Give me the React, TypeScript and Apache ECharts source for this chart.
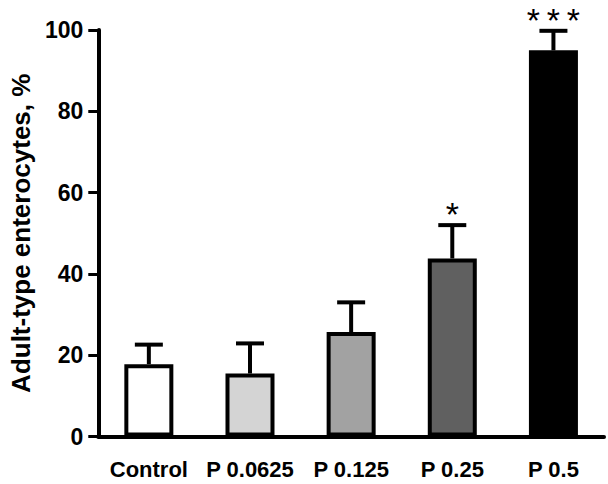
import React, { useEffect, useRef } from "react";
import * as echarts from "echarts";

const categories = ["Control", "P 0.0625", "P 0.125", "P 0.25", "P 0.5"];
const means = [17.8, 15.5, 25.7, 43.8, 95.0];
const sdUpper = [4.8, 7.4, 7.3, 8.2, 4.8];
const stars = ["", "", "", "*", "***"];
const fills = ["#ffffff", "#d4d4d4", "#a2a2a2", "#606060", "#000000"];
const yTicks = [0, 20, 40, 60, 80, 100];

const FONT = "'Liberation Sans', Arial, sans-serif";

export default function App() {
  const ref = useRef<HTMLDivElement>(null);
  useEffect(() => {
    if (!ref.current) return;
    const chart = echarts.init(ref.current, undefined, { renderer: "svg" });
    const errData = categories.map((c, i) => [i, means[i], means[i] + sdUpper[i]]);
    chart.setOption({
      animation: false,
      backgroundColor: "#ffffff",
      grid: { left: 90, right: 4, top: 30, bottom: 47.5 },
      xAxis: {
        type: "category",
        data: categories,
        boundaryGap: true,
        axisLine: { lineStyle: { color: "#000", width: 4 } },
        axisTick: { alignWithLabel: true, length: 10, lineStyle: { color: "#000", width: 3 } },
        axisLabel: {
          interval: 0,
          color: "#000",
          fontFamily: FONT,
          fontWeight: "bold",
          fontSize: 22,
          margin: 22,
        },
      },
      yAxis: {
        type: "value",
        min: yTicks[0],
        max: yTicks[yTicks.length - 1],
        interval: 20,
        name: "Adult-type enterocytes, %",
        nameLocation: "middle",
        nameGap: 59,
        nameTextStyle: { color: "#000", fontFamily: FONT, fontWeight: "bold", fontSize: 26 },
        splitLine: { show: false },
        axisLine: { show: true, lineStyle: { color: "#000", width: 4 } },
        axisTick: { show: true, length: 10, lineStyle: { color: "#000", width: 3 } },
        axisLabel: { color: "#000", fontFamily: FONT, fontWeight: "bold", fontSize: 23, margin: 15 },
      },
      series: [
        {
          type: "bar",
          barWidth: 49,
          data: means.map((v, i) => ({
            value: v,
            itemStyle: { color: fills[i], borderColor: "#000", borderWidth: 4 },
          })),
          z: 2,
        },
        {
          type: "custom",
          z: 3,
          data: errData,
          renderItem: (params: any, api: any) => {
            const x = api.value(0);
            const base = api.coord([x, api.value(1)]);
            const top = api.coord([x, api.value(2)]);
            const half = 14;
            const label = stars[params.dataIndex];
            const children: any[] = [
              {
                type: "line",
                shape: { x1: base[0], y1: base[1], x2: top[0], y2: top[1] },
                style: { stroke: "#000", lineWidth: 4 },
              },
              {
                type: "line",
                shape: { x1: top[0] - half, y1: top[1], x2: top[0] + half, y2: top[1] },
                style: { stroke: "#000", lineWidth: 4 },
              },
            ];
            const n = label.length;
            for (let k = 0; k < n; k++) {
              children.push({
                type: "text",
                x: top[0] + (k - (n - 1) / 2) * 20,
                y: top[1] - 28,
                style: {
                  text: "*",
                  fill: "#000",
                  font: `34px ${FONT}`,
                  textAlign: "center",
                  textVerticalAlign: "top",
                },
              });
            }
            return { type: "group", children };
          },
        },
      ],
    });
    return () => chart.dispose();
  }, []);
  return (
    <div
      ref={ref}
      style={{ position: "absolute", left: 0, top: 0, width: 608, height: 484 }}
    />
  );
}
